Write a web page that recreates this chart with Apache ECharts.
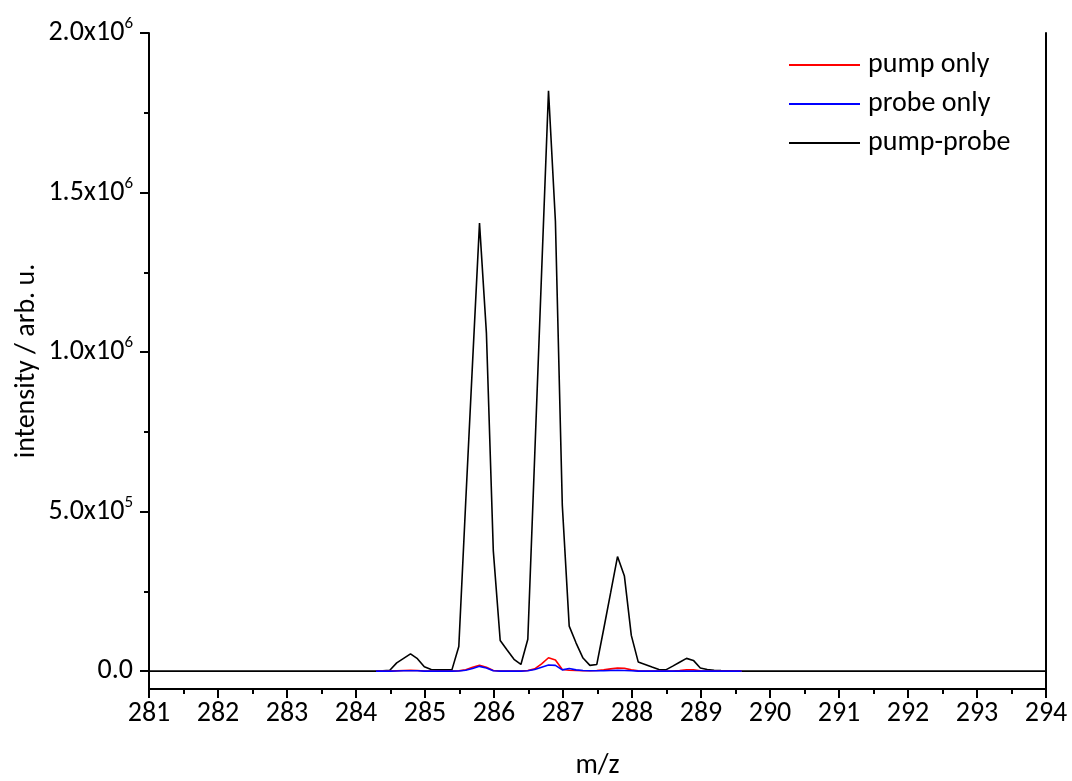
<!DOCTYPE html>
<html>
<head>
<meta charset="utf-8">
<title>Mass spectrum: pump only / probe only / pump-probe</title>
<script src="https://cdn.jsdelivr.net/npm/echarts@6/dist/echarts.min.js"></script>
<style>
  html, body { margin: 0; padding: 0; background: #fff; }
  #chart { width: 1072px; height: 781px; }
</style>
</head>
<body>
<div id="chart"></div>
<script>
// m/z sampling points (flat baseline outside 284.3–289.6)
const mz = [
  281.0,
  284.29, 284.39, 284.49, 284.59, 284.69, 284.79, 284.89, 284.99,
  285.09, 285.19, 285.29, 285.39, 285.49, 285.59, 285.69, 285.79, 285.89, 285.99,
  286.09, 286.19, 286.29, 286.39, 286.49, 286.59, 286.69, 286.79, 286.89, 286.99,
  287.09, 287.19, 287.29, 287.39, 287.49, 287.59, 287.69, 287.79, 287.89, 287.99,
  288.09, 288.19, 288.29, 288.39, 288.49, 288.59, 288.69, 288.79, 288.89, 288.99,
  289.09, 289.19, 289.29, 289.39, 289.49, 289.59,
  294.0
];

// pump-probe intensity
const pumpProbe = [
  0,
  0, 1000, 3000, 26000, 40000, 54000, 39000, 13500,
  5000, 4000, 4000, 4000, 77000, 530000, 970000, 1404000, 1060000, 377000,
  96000, 66000, 37000, 21000, 100000, 675000, 1250000, 1819000, 1410000, 520000,
  141000, 88000, 41000, 18000, 21000, 132000, 245000, 359000, 298000, 112000,
  29000, 21000, 12600, 5000, 4000, 15700, 28000, 40000, 33600, 10000,
  5000, 2500, 1500, 1000, 500, 0,
  0
];

// pump only intensity
const pumpOnly = [
  null,
  0, 0, 0, 1000, 2000, 3000, 2000, 500,
  0, 0, 0, 0, 1000, 4000, 12000, 18000, 12000, 2000,
  500, 0, 0, 500, 2000, 7000, 23000, 42000, 35000, 5000,
  3000, 2000, 1000, 1000, 2000, 4000, 7000, 10000, 9000, 4000,
  1000, 500, 0, 0, 0, 500, 2000, 4000, 4000, 1000,
  0, 0, 0, 0, 0, 0,
  null
];

// probe only intensity
const probeOnly = [
  null,
  0, 0, 0, 500, 1000, 1000, 1000, 0,
  0, 0, 0, 0, 500, 3000, 8000, 15000, 10000, 1000,
  0, 0, 0, 0, 1000, 5000, 12500, 19000, 18000, 4000,
  8500, 4000, 2000, 1000, 1000, 1000, 2000, 3000, 2000, 1000,
  0, 0, 0, 0, 0, 0, 0, 0, 0, 0,
  0, 0, 0, 0, 0, 0,
  null
];

// axis ticks and labels
const yMajorTicks = [0, 500000, 1000000, 1500000, 2000000];
const yMinorTicks = [250000, 750000, 1250000, 1750000];
const yTickMantissa = ['0.0', '5.0x10', '1.0x10', '1.5x10', '2.0x10'];
const yTickExponent = ['', '5', '6', '6', '6'];
const seriesNames = ['pump only', 'probe only', 'pump-probe'];

const FONT = 'Carlito, Lato, "Open Sans", sans-serif';
const FS = 28;
const Y_MIN = -56000;
const Y_MAX = 2000000;

const pairs = (vals) => mz.map((x, i) => [x, vals[i]]);

const chart = echarts.init(document.getElementById('chart'), null, { renderer: 'canvas' });

const yLabelFormatter = (v) => {
  const i = yMajorTicks.indexOf(v);
  if (i < 0) return '';
  const e = yTickExponent[i];
  return '{m|' + yTickMantissa[i] + '}' + (e ? '{e|' + e + '}' : '');
};

const blackLine = { color: '#000', width: 2 };

chart.setOption({
  animation: false,
  backgroundColor: '#fff',
  textStyle: { fontFamily: FONT },
  grid: { left: 149, right: 26, top: 33, bottom: 92, containLabel: false, outerBoundsMode: 'none' },
  legend: {
    orient: 'vertical',
    left: 789,
    top: 50,
    padding: 0,
    itemGap: 9,
    itemWidth: 71,
    itemHeight: 2,
    icon: 'rect',
    data: seriesNames,
    textStyle: { fontFamily: FONT, fontSize: FS, color: '#000', lineHeight: 30, padding: [0, 0, 0, 3] }
  },
  xAxis: {
    type: 'value',
    min: 281,
    max: 294,
    interval: 1,
    position: 'bottom',
    name: 'm/z',
    nameLocation: 'middle',
    nameGap: 63,
    nameMoveOverlap: false,
    nameTextStyle: { fontFamily: FONT, fontSize: FS, color: '#000' },
    axisLine: { show: true, onZero: false, lineStyle: blackLine },
    axisTick: { show: true, length: 9, lineStyle: blackLine },
    minorTick: { show: true, splitNumber: 2, length: 5, lineStyle: blackLine },
    axisLabel: { fontFamily: FONT, fontSize: FS, color: '#000', margin: 11 },
    splitLine: { show: false },
    minorSplitLine: { show: false }
  },
  yAxis: [
    {
      type: 'value',
      position: 'left',
      min: Y_MIN,
      max: Y_MAX,
      name: 'intensity / arb. u.',
      nameLocation: 'middle',
      nameGap: 108,
      nameMoveOverlap: false,
      nameTextStyle: { fontFamily: FONT, fontSize: FS, color: '#000' },
      axisLine: { show: true, onZero: false, lineStyle: blackLine },
      axisTick: { show: true, length: 9, lineStyle: blackLine, customValues: yMajorTicks },
      axisLabel: {
        margin: 16,
        customValues: yMajorTicks,
        formatter: yLabelFormatter,
        rich: {
          m: { fontFamily: FONT, fontSize: FS, color: '#000' },
          e: { fontFamily: FONT, fontSize: 17, color: '#000', padding: [0, 0, 18, 0] }
        }
      },
      splitLine: { show: false }
    },
    {
      type: 'value',
      position: 'left',
      min: Y_MIN,
      max: Y_MAX,
      axisLine: { show: false },
      axisTick: { show: true, length: 5, lineStyle: blackLine, customValues: yMinorTicks },
      axisLabel: { show: false, customValues: yMinorTicks },
      splitLine: { show: false }
    },
    {
      type: 'value',
      position: 'right',
      min: Y_MIN,
      max: Y_MAX,
      axisLine: { show: true, onZero: false, lineStyle: blackLine },
      axisTick: { show: false },
      axisLabel: { show: false },
      splitLine: { show: false }
    }
  ],
  series: [
    {
      name: 'pump-probe',
      type: 'line',
      yAxisIndex: 0,
      data: pairs(pumpProbe),
      showSymbol: false,
      symbol: 'none',
      color: '#000000',
      lineStyle: { color: '#000000', width: 1.6 },
      z: 2
    },
    {
      name: 'pump only',
      type: 'line',
      yAxisIndex: 0,
      data: pairs(pumpOnly),
      showSymbol: false,
      symbol: 'none',
      color: '#ff0000',
      lineStyle: { color: '#ff0000', width: 1.6 },
      z: 3
    },
    {
      name: 'probe only',
      type: 'line',
      yAxisIndex: 0,
      data: pairs(probeOnly),
      showSymbol: false,
      symbol: 'none',
      color: '#0000ff',
      lineStyle: { color: '#0000ff', width: 1.6 },
      z: 4
    }
  ]
});
</script>
</body>
</html>
